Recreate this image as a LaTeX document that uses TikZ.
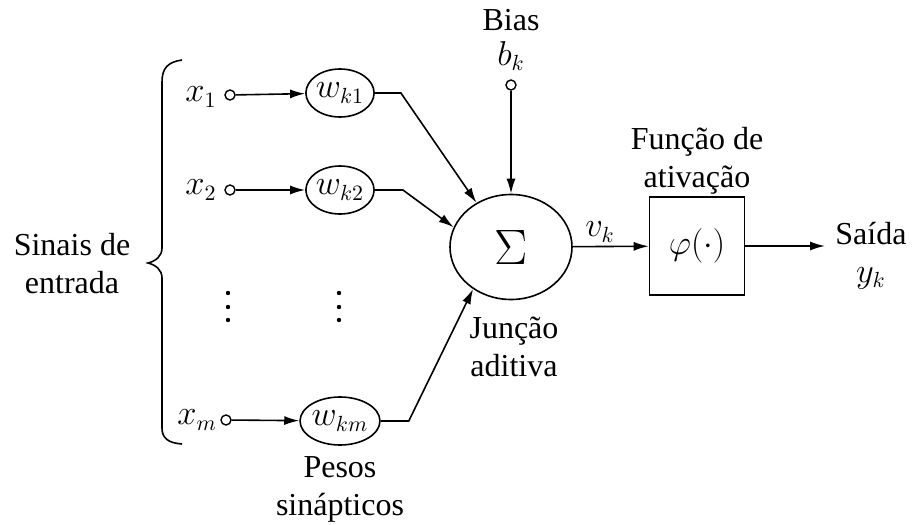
\documentclass[tikz,border=0pt]{standalone}
\usepackage{fontspec}
\setmainfont{Liberation Serif}
\usetikzlibrary{shapes.geometric,arrows.meta}
\begin{document}
\begin{tikzpicture}[x=0.5pt,y=-0.5pt,
  font=\fontsize{16}{19}\selectfont,
  line width=0.8pt,
  wnode/.style={draw, ellipse, minimum width=33pt, minimum height=24pt, inner sep=0pt},
  port/.style={draw, circle, minimum size=5pt, inner sep=0pt, line width=0.7pt},
  arr/.style={-{Latex[length=7.5pt,width=4.5pt]}},
  lbl/.style={align=center, inner sep=0pt}]
\useasboundingbox (0,0) rectangle (912,525);
% inputs
\node[port] (in1) at (230,95) {};
\node[port] (in2) at (230,190) {};
\node[port] (inm) at (226,420) {};
\node (x1) at (201,97) {$x_1$};
\node (x2) at (201,190) {$x_2$};
\node (xm) at (197,420) {$x_m$};
% weights
\node[wnode] (w1) at (340,93) {$w_{k1}$};
\node[wnode] (w2) at (340,190) {$w_{k2}$};
\node[wnode] (wm) at (340,421) {$w_{km}$};
% dots
\foreach \xx in {228,339} \foreach \yy in {293,307,320} \fill (\xx,\yy) circle (1.1pt);
% summation
\node[draw, ellipse, minimum width=61pt, minimum height=52.5pt] (sum) at (511,247) {\fontsize{24}{26}\selectfont$\Sigma$};
\node[port] (bias) at (511,85) {};
\node[inner sep=0pt] (bk) at (511,56) {$b_k$};
\node[inner sep=0pt] (biaslbl) at (511,20) {Bias};
\node (vk) at (600,232) {$v_k$};
% activation
\node[draw, minimum width=47.5pt, minimum height=49pt] (phi) at (697,246) {$\varphi(\cdot)$};
\node[lbl] (flbl) at (697,161) {Função de\\ativação};
\coordinate (out) at (825,246);
\node[lbl] (saida) at (871,256) {Saída\\$y_k$};
% labels
\node[lbl] (jlbl) at (514,347) {Junção\\aditiva};
\node[lbl] (plbl) at (340,489) {Pesos\\sinápticos};
\node[lbl] (slbl) at (72,264) {Sinais de\\entrada};
% brace
\draw (182,60) .. controls (168,62) and (162,68) .. (162,82) -- (162,248)
  .. controls (162,256) and (156,261) .. (148,263)
  .. controls (156,265) and (162,270) .. (162,278) -- (162,428)
  .. controls (162,438) and (168,443) .. (182,444);
% connectors
\draw[arr] (in1) -- (w1);
\draw[arr] (in2) -- (w2);
\draw[arr] (inm) -- (wm);
\draw[arr] (w1.east) -- ++(26,0) -- (sum.128);
\draw[arr] (w2.east) -- ++(28,0) -- (sum.161);
\draw[arr] (wm.east) -- ++(28,0) -- (sum.228);
\draw[arr] (bias) -- (sum);
\draw[arr] (sum) -- (phi);
\draw[arr] (phi) -- (out);
\end{tikzpicture}
\end{document}
